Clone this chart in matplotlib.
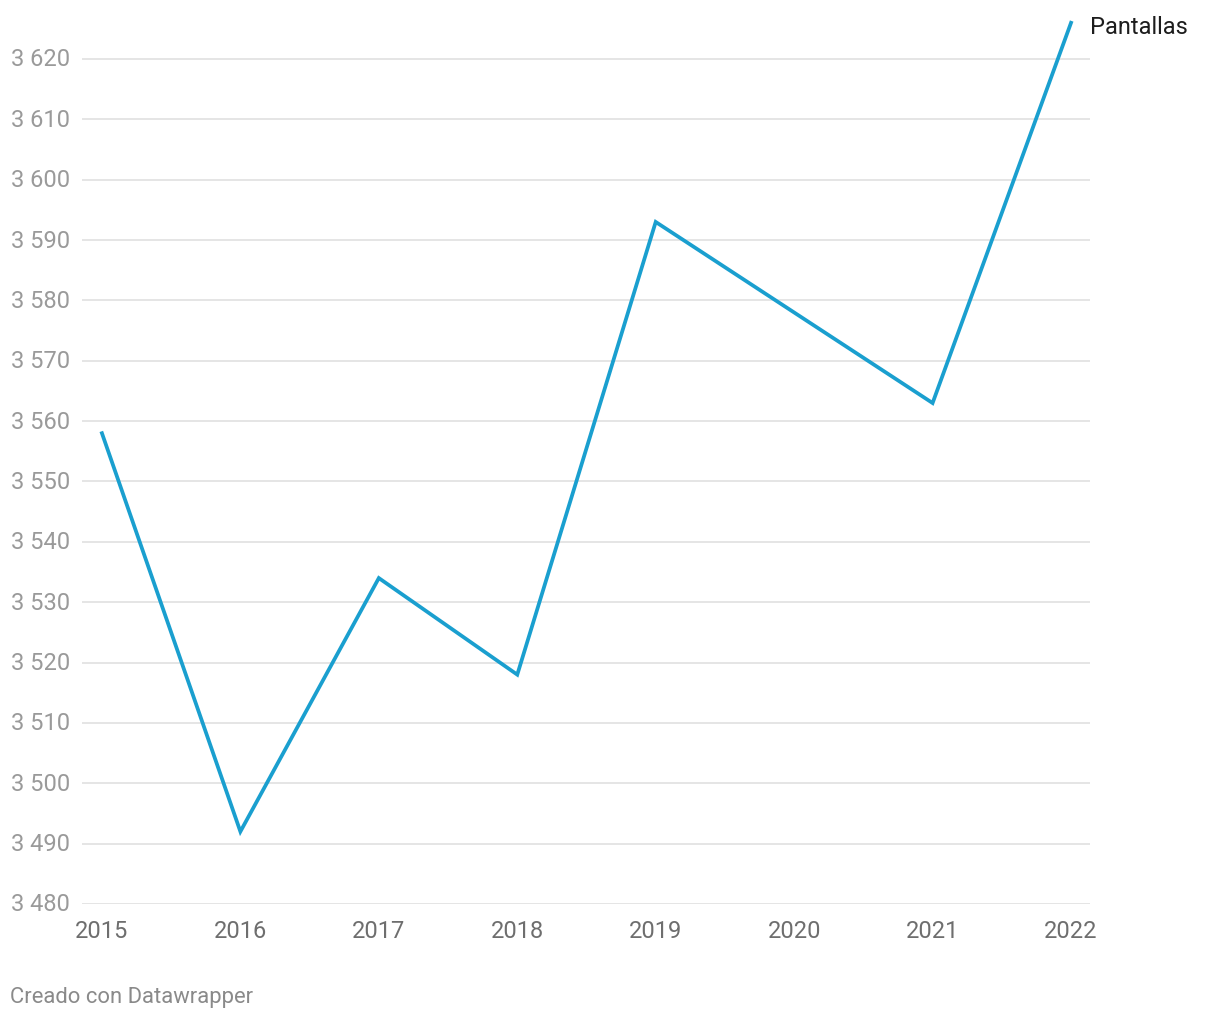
import matplotlib

matplotlib.use("Agg")
import matplotlib.pyplot as plt

# ── Data ──────────────────────────────────────────────────────────────────────
years = [2015, 2016, 2017, 2018, 2019, 2020, 2021, 2022]
pantallas = [3558, 3492, 3534, 3518, 3593, 3578, 3563, 3626]
y_ticks = list(range(3480, 3621, 10))
series_label = "Pantallas"

LINE_COLOR = "#1a9fcf"
GRID_COLOR = "#e3e3e3"

plt.rcParams["font.family"] = ["Roboto", "DejaVu Sans"]

W, H = 1220, 1020
fig = plt.figure(figsize=(W / 100, H / 100), dpi=100)
# axes placed in pixel terms: x 82..1090, y 12..905
ax = fig.add_axes([82 / W, 1 - 905 / H, (1090 - 82) / W, (905 - 12) / H])

ax.plot(years, pantallas, color=LINE_COLOR, lw=2.7, solid_joinstyle="miter",
        clip_on=False, zorder=3)

ax.set_xlim(2014.856, 2022.137)
ax.set_ylim(3480, 3627.95)

for v in y_ticks:
    ax.axhline(v, color=GRID_COLOR, lw=1.3, zorder=1)

ax.set_yticks(y_ticks)
ax.set_yticklabels([f"{v // 1000} {v % 1000:03d}" for v in y_ticks])
ax.set_xticks(years)
ax.set_xticklabels([str(y) for y in years])
ax.tick_params(axis="y", length=0, pad=8.5, labelsize=17, labelcolor="#9a9a9a")
ax.tick_params(axis="x", length=0, pad=11, labelsize=17, labelcolor="#6e6e6e")
for lbl in ax.get_yticklabels():
    lbl.set_verticalalignment("center")

for s in ax.spines.values():
    s.set_visible(False)

# series label at line end
ax.annotate(series_label, xy=(years[-1], pantallas[-1]), xytext=(14, -3),
            textcoords="offset points", fontsize=17, color="#1d1d1d",
            va="center", ha="left", annotation_clip=False)

fig.text(10 / W, 1 - 998 / H, "Creado con Datawrapper", fontsize=15.8,
         color="#8a8a8a", va="center", ha="left")

fig.savefig("out.png", dpi=100)
